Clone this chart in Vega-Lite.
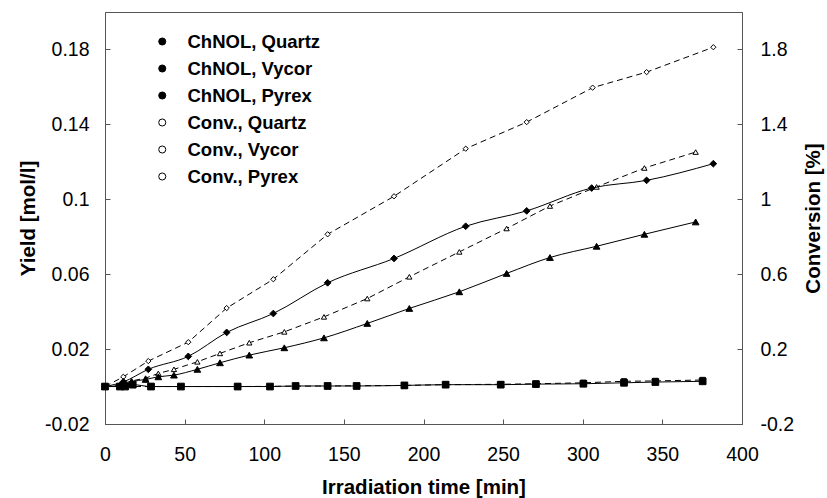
{
  "$schema": "https://vega.github.io/schema/vega-lite/v6.json",
  "width": 637,
  "height": 412,
  "autosize": {"type": "none"},
  "padding": {"left": 105, "top": 12, "right": 85, "bottom": 74},
  "background": "white",
  "config": {
    "font": "Liberation Sans",
    "view": {"stroke": "#555", "strokeWidth": 1},
    "axis": {
      "grid": false,
      "domainColor": "#555",
      "tickColor": "#555",
      "tickSize": -5,
      "labelFont": "Liberation Sans",
      "labelFontSize": 19.5,
      "labelColor": "black",
      "titleFont": "Liberation Sans",
      "titleFontSize": 20.5,
      "titleFontWeight": "bold",
      "titleColor": "black",
      "labelFlush": false,
      "labelOverlap": false
    },
    "legend": {
      "title": null,
      "orient": "none",
      "legendX": 48,
      "legendY": 16,
      "padding": 0,
      "symbolSize": 50,
      "symbolStrokeColor": "black",
      "symbolStrokeWidth": 1,
      "symbolOpacity": 1,
      "clipHeight": 27,
      "rowPadding": 0,
      "labelOffset": 16,
      "labelFont": "Liberation Sans",
      "labelFontSize": 18.5,
      "labelFontWeight": "bold",
      "labelColor": "black",
      "labelLimit": 400
    }
  },
  "datasets": {
    "yield": [
      {"series": "ChNOL, Quartz", "glass": "Quartz", "t": 0, "y": 0},
      {"series": "ChNOL, Quartz", "glass": "Quartz", "t": 11.5, "y": 0.0025},
      {"series": "ChNOL, Quartz", "glass": "Quartz", "t": 27.2, "y": 0.0092},
      {"series": "ChNOL, Quartz", "glass": "Quartz", "t": 52.3, "y": 0.0161},
      {"series": "ChNOL, Quartz", "glass": "Quartz", "t": 76.4, "y": 0.0289},
      {"series": "ChNOL, Quartz", "glass": "Quartz", "t": 105.7, "y": 0.039},
      {"series": "ChNOL, Quartz", "glass": "Quartz", "t": 139.8, "y": 0.0554},
      {"series": "ChNOL, Quartz", "glass": "Quartz", "t": 181.5, "y": 0.0684},
      {"series": "ChNOL, Quartz", "glass": "Quartz", "t": 226.5, "y": 0.0856},
      {"series": "ChNOL, Quartz", "glass": "Quartz", "t": 264.8, "y": 0.0938},
      {"series": "ChNOL, Quartz", "glass": "Quartz", "t": 305.6, "y": 0.106},
      {"series": "ChNOL, Quartz", "glass": "Quartz", "t": 340.1, "y": 0.1101},
      {"series": "ChNOL, Quartz", "glass": "Quartz", "t": 382, "y": 0.119},
      {"series": "ChNOL, Vycor", "glass": "Vycor", "t": 0, "y": 0},
      {"series": "ChNOL, Vycor", "glass": "Vycor", "t": 9.4, "y": 0.0005},
      {"series": "ChNOL, Vycor", "glass": "Vycor", "t": 16.7, "y": 0.0026},
      {"series": "ChNOL, Vycor", "glass": "Vycor", "t": 25.5, "y": 0.0038},
      {"series": "ChNOL, Vycor", "glass": "Vycor", "t": 33.5, "y": 0.0052},
      {"series": "ChNOL, Vycor", "glass": "Vycor", "t": 43.3, "y": 0.0061},
      {"series": "ChNOL, Vycor", "glass": "Vycor", "t": 58, "y": 0.0092},
      {"series": "ChNOL, Vycor", "glass": "Vycor", "t": 72.2, "y": 0.0127},
      {"series": "ChNOL, Vycor", "glass": "Vycor", "t": 90.6, "y": 0.0168},
      {"series": "ChNOL, Vycor", "glass": "Vycor", "t": 112.6, "y": 0.0207},
      {"series": "ChNOL, Vycor", "glass": "Vycor", "t": 137.5, "y": 0.026},
      {"series": "ChNOL, Vycor", "glass": "Vycor", "t": 164.7, "y": 0.0337},
      {"series": "ChNOL, Vycor", "glass": "Vycor", "t": 191.1, "y": 0.0417},
      {"series": "ChNOL, Vycor", "glass": "Vycor", "t": 222.5, "y": 0.0506},
      {"series": "ChNOL, Vycor", "glass": "Vycor", "t": 252.2, "y": 0.0604},
      {"series": "ChNOL, Vycor", "glass": "Vycor", "t": 279.4, "y": 0.0689},
      {"series": "ChNOL, Vycor", "glass": "Vycor", "t": 308.7, "y": 0.0749},
      {"series": "ChNOL, Vycor", "glass": "Vycor", "t": 338.7, "y": 0.0813},
      {"series": "ChNOL, Vycor", "glass": "Vycor", "t": 370.9, "y": 0.0879},
      {"series": "ChNOL, Pyrex", "glass": "Pyrex", "t": 0, "y": 0},
      {"series": "ChNOL, Pyrex", "glass": "Pyrex", "t": 9.4, "y": 0},
      {"series": "ChNOL, Pyrex", "glass": "Pyrex", "t": 12.6, "y": 0},
      {"series": "ChNOL, Pyrex", "glass": "Pyrex", "t": 17.4, "y": 0.001},
      {"series": "ChNOL, Pyrex", "glass": "Pyrex", "t": 28.9, "y": 0},
      {"series": "ChNOL, Pyrex", "glass": "Pyrex", "t": 47.7, "y": 0},
      {"series": "ChNOL, Pyrex", "glass": "Pyrex", "t": 83.3, "y": 0},
      {"series": "ChNOL, Pyrex", "glass": "Pyrex", "t": 103.6, "y": 0},
      {"series": "ChNOL, Pyrex", "glass": "Pyrex", "t": 119.7, "y": 0.0003},
      {"series": "ChNOL, Pyrex", "glass": "Pyrex", "t": 139.8, "y": 0.0003},
      {"series": "ChNOL, Pyrex", "glass": "Pyrex", "t": 158, "y": 0.0003},
      {"series": "ChNOL, Pyrex", "glass": "Pyrex", "t": 188, "y": 0.0006},
      {"series": "ChNOL, Pyrex", "glass": "Pyrex", "t": 213.9, "y": 0.001},
      {"series": "ChNOL, Pyrex", "glass": "Pyrex", "t": 248.5, "y": 0.001},
      {"series": "ChNOL, Pyrex", "glass": "Pyrex", "t": 270.6, "y": 0.0013},
      {"series": "ChNOL, Pyrex", "glass": "Pyrex", "t": 300.4, "y": 0.0015},
      {"series": "ChNOL, Pyrex", "glass": "Pyrex", "t": 325.9, "y": 0.002},
      {"series": "ChNOL, Pyrex", "glass": "Pyrex", "t": 345.6, "y": 0.0024},
      {"series": "ChNOL, Pyrex", "glass": "Pyrex", "t": 375.3, "y": 0.0028}
    ],
    "conv": [
      {"series": "Conv., Quartz", "glass": "Quartz", "t": 0, "c": 0},
      {"series": "Conv., Quartz", "glass": "Quartz", "t": 11.5, "c": 0.052},
      {"series": "Conv., Quartz", "glass": "Quartz", "t": 27.2, "c": 0.136},
      {"series": "Conv., Quartz", "glass": "Quartz", "t": 52.3, "c": 0.237},
      {"series": "Conv., Quartz", "glass": "Quartz", "t": 76.4, "c": 0.419},
      {"series": "Conv., Quartz", "glass": "Quartz", "t": 105.7, "c": 0.573},
      {"series": "Conv., Quartz", "glass": "Quartz", "t": 139.8, "c": 0.813},
      {"series": "Conv., Quartz", "glass": "Quartz", "t": 181.5, "c": 1.016},
      {"series": "Conv., Quartz", "glass": "Quartz", "t": 226.5, "c": 1.27},
      {"series": "Conv., Quartz", "glass": "Quartz", "t": 264.8, "c": 1.412},
      {"series": "Conv., Quartz", "glass": "Quartz", "t": 306.2, "c": 1.596},
      {"series": "Conv., Quartz", "glass": "Quartz", "t": 340.1, "c": 1.679},
      {"series": "Conv., Quartz", "glass": "Quartz", "t": 382, "c": 1.812},
      {"series": "Conv., Vycor", "glass": "Vycor", "t": 0, "c": 0},
      {"series": "Conv., Vycor", "glass": "Vycor", "t": 9.4, "c": 0.01},
      {"series": "Conv., Vycor", "glass": "Vycor", "t": 16.7, "c": 0.03},
      {"series": "Conv., Vycor", "glass": "Vycor", "t": 25.5, "c": 0.045},
      {"series": "Conv., Vycor", "glass": "Vycor", "t": 33.5, "c": 0.07},
      {"series": "Conv., Vycor", "glass": "Vycor", "t": 43.3, "c": 0.092},
      {"series": "Conv., Vycor", "glass": "Vycor", "t": 58, "c": 0.132},
      {"series": "Conv., Vycor", "glass": "Vycor", "t": 72.2, "c": 0.177},
      {"series": "Conv., Vycor", "glass": "Vycor", "t": 90.6, "c": 0.234},
      {"series": "Conv., Vycor", "glass": "Vycor", "t": 112.6, "c": 0.292},
      {"series": "Conv., Vycor", "glass": "Vycor", "t": 137.5, "c": 0.372},
      {"series": "Conv., Vycor", "glass": "Vycor", "t": 164.7, "c": 0.47},
      {"series": "Conv., Vycor", "glass": "Vycor", "t": 191.1, "c": 0.586},
      {"series": "Conv., Vycor", "glass": "Vycor", "t": 222.5, "c": 0.719},
      {"series": "Conv., Vycor", "glass": "Vycor", "t": 252.2, "c": 0.844},
      {"series": "Conv., Vycor", "glass": "Vycor", "t": 279.4, "c": 0.964},
      {"series": "Conv., Vycor", "glass": "Vycor", "t": 308.7, "c": 1.066},
      {"series": "Conv., Vycor", "glass": "Vycor", "t": 338.7, "c": 1.167},
      {"series": "Conv., Vycor", "glass": "Vycor", "t": 370.9, "c": 1.252},
      {"series": "Conv., Pyrex", "glass": "Pyrex", "t": 0, "c": 0},
      {"series": "Conv., Pyrex", "glass": "Pyrex", "t": 28.9, "c": 0},
      {"series": "Conv., Pyrex", "glass": "Pyrex", "t": 83.3, "c": 0},
      {"series": "Conv., Pyrex", "glass": "Pyrex", "t": 139.8, "c": 0.003},
      {"series": "Conv., Pyrex", "glass": "Pyrex", "t": 188, "c": 0.006},
      {"series": "Conv., Pyrex", "glass": "Pyrex", "t": 213.9, "c": 0.01},
      {"series": "Conv., Pyrex", "glass": "Pyrex", "t": 248.5, "c": 0.012},
      {"series": "Conv., Pyrex", "glass": "Pyrex", "t": 270.6, "c": 0.015},
      {"series": "Conv., Pyrex", "glass": "Pyrex", "t": 300.4, "c": 0.02},
      {"series": "Conv., Pyrex", "glass": "Pyrex", "t": 325.9, "c": 0.028},
      {"series": "Conv., Pyrex", "glass": "Pyrex", "t": 345.6, "c": 0.03},
      {"series": "Conv., Pyrex", "glass": "Pyrex", "t": 375.3, "c": 0.035}
    ]
  },
  "layer": [
    {
      "data": {"name": "conv"},
      "encoding": {
        "x": {
          "field": "t", "type": "quantitative",
          "scale": {"domain": [0, 400], "nice": false},
          "axis": {"values": [0, 50, 100, 150, 200, 250, 300, 350, 400], "title": "Irradiation time [min]", "labelPadding": 26, "titlePadding": 14}
        },
        "y": {
          "field": "c", "type": "quantitative",
          "scale": {"domain": [-0.2, 2.0], "nice": false, "zero": false},
          "axis": {"orient": "right", "values": [-0.2, 0.2, 0.6, 1, 1.4, 1.8], "labelExpr": "'' + datum.value", "title": "Conversion [%]", "titleAngle": 270, "titleBaseline": "top", "labelPadding": 23, "titlePadding": 10}
        }
      },
      "layer": [
        {
          "mark": {"type": "line", "color": "black", "strokeWidth": 1, "strokeDash": [6, 4]},
          "encoding": {"detail": {"field": "series"}}
        },
        {
          "mark": {"type": "point", "filled": true, "fill": "white", "stroke": "black", "strokeWidth": 1, "size": 28, "opacity": 1},
          "encoding": {
            "shape": {
              "field": "glass", "type": "nominal", "legend": null,
              "scale": {"domain": ["Quartz", "Vycor", "Pyrex"], "range": ["diamond", "triangle-up", "square"]}
            }
          }
        },
        {
          "mark": {"type": "point", "filled": true, "stroke": "black", "strokeWidth": 1, "size": 0, "opacity": 1},
          "encoding": {
            "shape": {
              "field": "series", "type": "nominal",
              "scale": {"domain": ["ChNOL, Quartz", "ChNOL, Vycor", "ChNOL, Pyrex", "Conv., Quartz", "Conv., Vycor", "Conv., Pyrex"], "range": ["diamond", "triangle-up", "square", "diamond", "triangle-up", "square"]}
            },
            "color": {
              "field": "series", "type": "nominal",
              "scale": {"domain": ["ChNOL, Quartz", "ChNOL, Vycor", "ChNOL, Pyrex", "Conv., Quartz", "Conv., Vycor", "Conv., Pyrex"], "range": ["black", "black", "black", "white", "white", "white"]}
            }
          }
        }
      ]
    },
    {
      "data": {"name": "yield"},
      "encoding": {
        "x": {
          "field": "t", "type": "quantitative",
          "scale": {"domain": [0, 400], "nice": false},
          "axis": {"values": [0, 50, 100, 150, 200, 250, 300, 350, 400], "title": "Irradiation time [min]", "labelPadding": 26, "titlePadding": 14}
        },
        "y": {
          "field": "y", "type": "quantitative",
          "scale": {"domain": [-0.02, 0.2], "nice": false, "zero": false},
          "axis": {"orient": "left", "values": [-0.02, 0.02, 0.06, 0.1, 0.14, 0.18], "labelExpr": "'' + datum.value", "title": "Yield [mol/l]", "titleAngle": 270, "titleBaseline": "bottom", "labelPadding": 21, "titlePadding": 6}
        }
      },
      "layer": [
        {
          "mark": {"type": "line", "color": "black", "strokeWidth": 1, "interpolate": "monotone"},
          "encoding": {"detail": {"field": "series"}}
        },
        {
          "mark": {"type": "point", "filled": true, "fill": "black", "stroke": "black", "strokeWidth": 1, "size": 45, "opacity": 1},
          "encoding": {
            "shape": {
              "field": "glass", "type": "nominal", "legend": null,
              "scale": {"domain": ["Quartz", "Vycor", "Pyrex"], "range": ["diamond", "triangle-up", "square"]}
            }
          }
        },
        {
          "mark": {"type": "point", "filled": true, "stroke": "black", "strokeWidth": 1, "size": 0, "opacity": 1},
          "encoding": {
            "shape": {
              "field": "series", "type": "nominal",
              "scale": {"domain": ["ChNOL, Quartz", "ChNOL, Vycor", "ChNOL, Pyrex", "Conv., Quartz", "Conv., Vycor", "Conv., Pyrex"], "range": ["diamond", "triangle-up", "square", "diamond", "triangle-up", "square"]}
            },
            "color": {
              "field": "series", "type": "nominal",
              "scale": {"domain": ["ChNOL, Quartz", "ChNOL, Vycor", "ChNOL, Pyrex", "Conv., Quartz", "Conv., Vycor", "Conv., Pyrex"], "range": ["black", "black", "black", "white", "white", "white"]}
            }
          }
        }
      ]
    }
  ],
  "resolve": {"scale": {"y": "independent"}}
}
